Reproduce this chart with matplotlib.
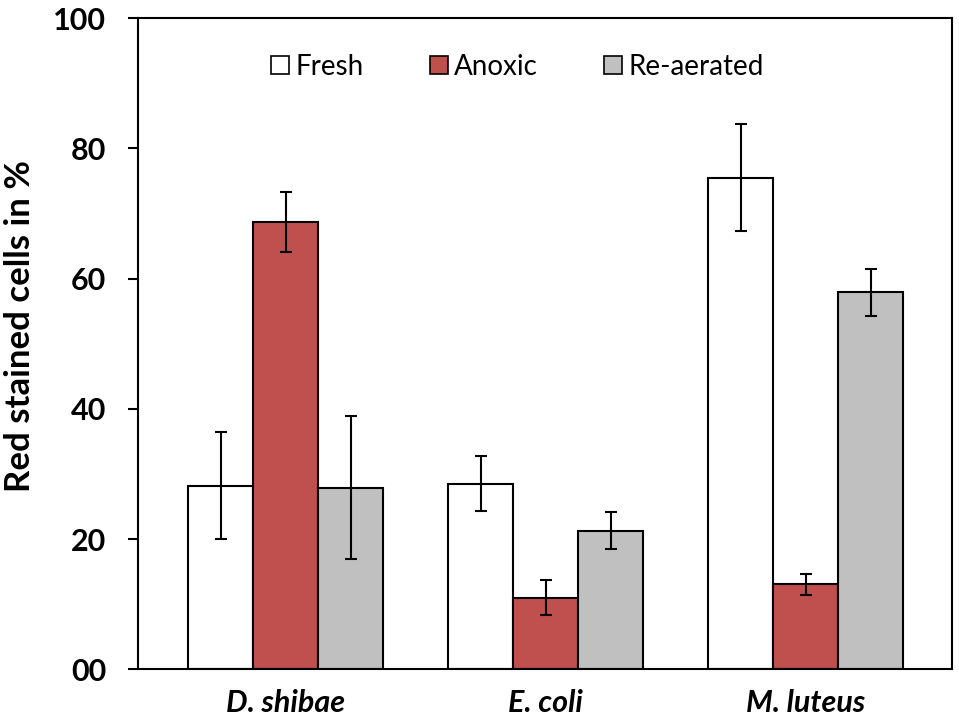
import matplotlib
matplotlib.use("Agg")
import matplotlib.pyplot as plt
import numpy as np
from matplotlib.lines import Line2D

categories = ["D. shibae", "E. coli", "M. luteus"]
series = ["Fresh", "Anoxic", "Re-aerated"]
fresh = [28.2, 28.5, 75.5]
fresh_err = [8.2, 4.2, 8.2]
anoxic = [68.7, 11.0, 13.1]
anoxic_err = [4.6, 2.7, 1.6]
reaerated = [27.9, 21.3, 57.9]
reaerated_err = [11.0, 2.8, 3.6]
yticks = [0, 20, 40, 60, 80, 100]
yticklabels = ["00", "20", "40", "60", "80", "100"]
colors = ["#FFFFFF", "#C0504D", "#C0C0C0"]

plt.rcParams['font.family'] = ['Lato', 'DejaVu Sans']

fig = plt.figure(figsize=(9.59, 7.23), dpi=100)
ax = fig.add_axes([0.1439, 0.074, 0.8488, 0.9011])

x = np.arange(len(categories))
w = 0.25
vals = [fresh, anoxic, reaerated]
errs = [fresh_err, anoxic_err, reaerated_err]
for i, (v, e, c) in enumerate(zip(vals, errs, colors)):
    ax.bar(x + (i - 1) * w, v, w, color=c, edgecolor="black", linewidth=1.5,
           yerr=e, error_kw=dict(ecolor="black", elinewidth=1.5, capsize=4, capthick=1.5),
           zorder=2)

ax.set_xlim(-0.569, 2.562)
ax.set_ylim(0, 100)
ax.set_yticks(yticks)
ax.set_yticklabels(yticklabels, fontsize=22, fontweight="bold")
ax.set_xticks(x)
ax.set_xticklabels(categories, fontsize=22, fontweight="bold", fontstyle="italic")
ax.tick_params(axis="y", direction="out", length=7, width=1.5, pad=16)
ax.tick_params(axis="x", length=0, pad=14)
for s in ax.spines.values():
    s.set_linewidth(1.5)
ax.set_ylabel("Red stained cells in %", fontsize=25, fontweight="bold", labelpad=12)
ax.yaxis.label.set_y(0.527)

handles = [Line2D([], [], marker="s", linestyle="none", markersize=13,
                  markerfacecolor=c, markeredgecolor="black", markeredgewidth=1.2)
           for c in colors]
ax.legend(handles, series, loc="center", bbox_to_anchor=(0.465, 0.925), ncol=3,
          frameon=False, fontsize=20, handletextpad=0.15, columnspacing=2.3,
          handlelength=0.8)

fig.savefig("out.png", dpi=100)
